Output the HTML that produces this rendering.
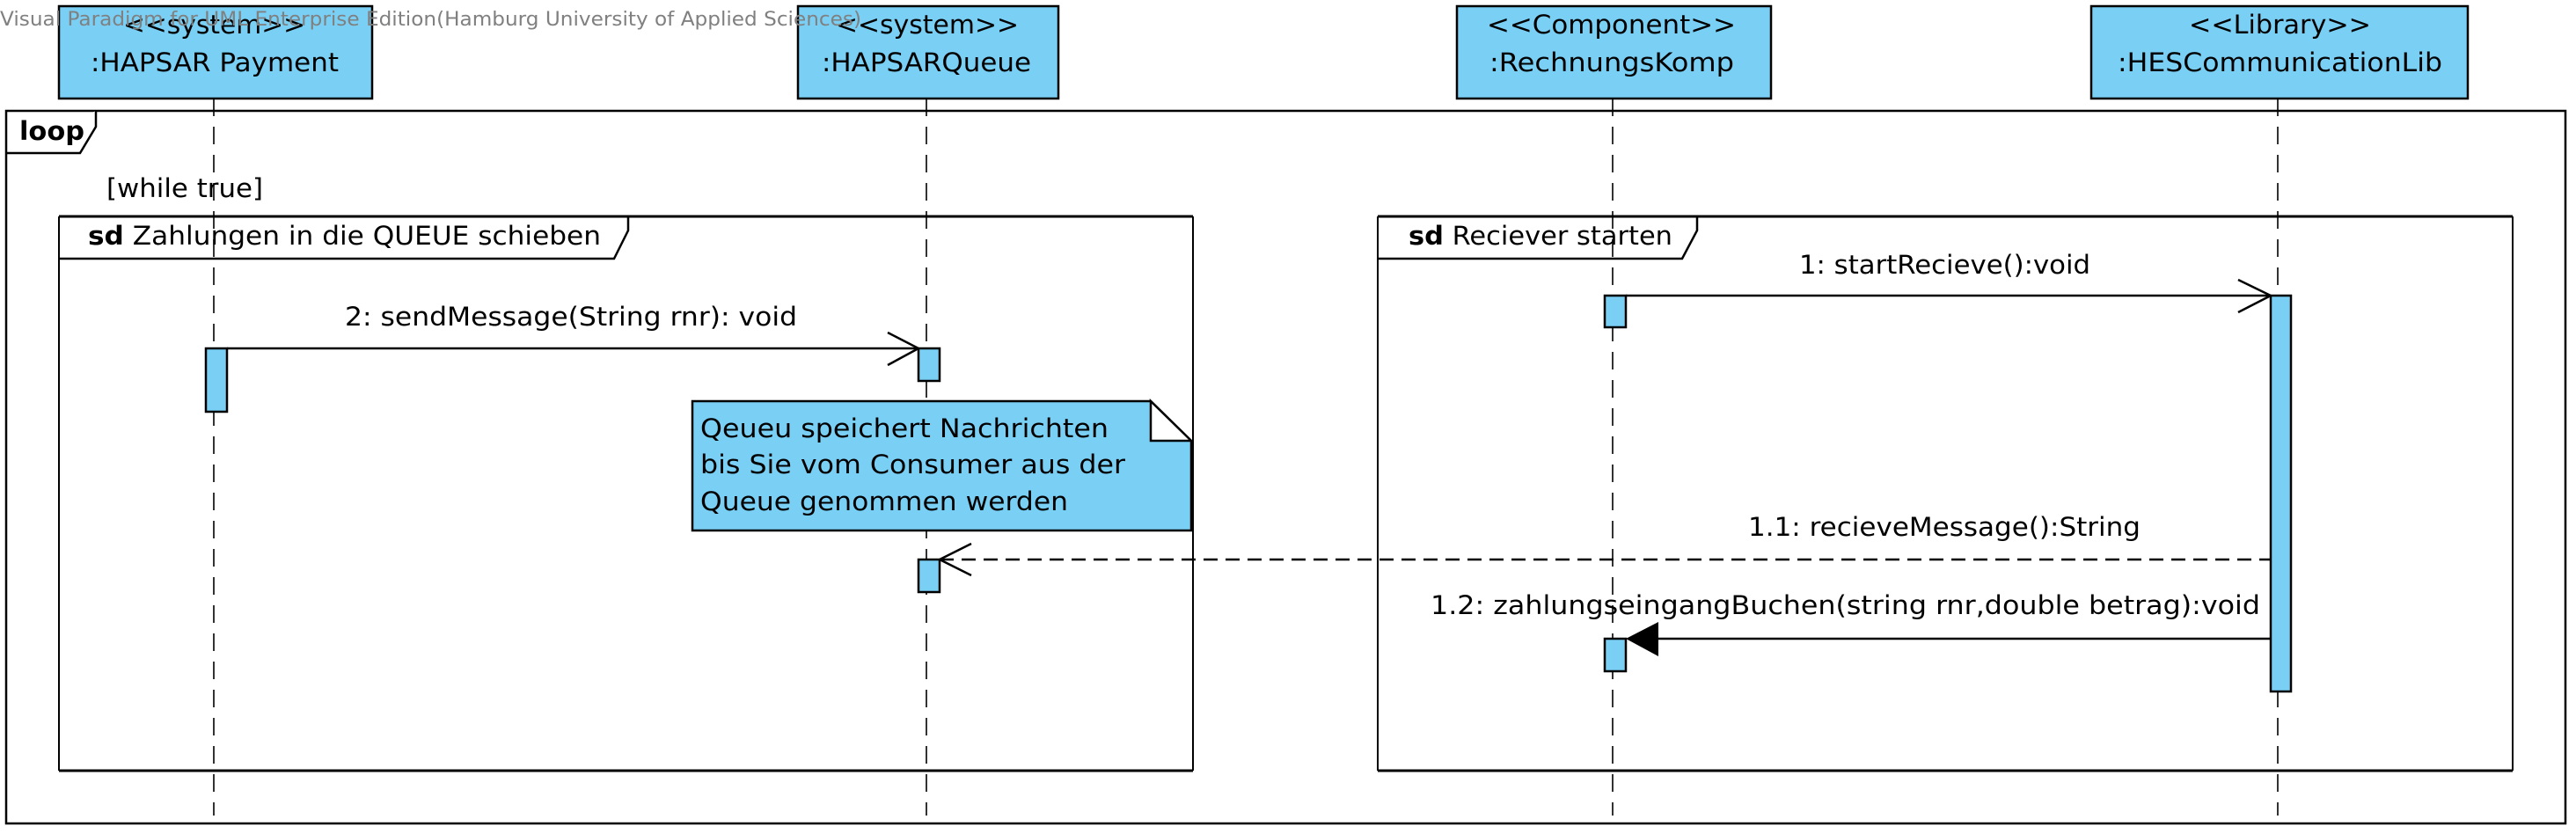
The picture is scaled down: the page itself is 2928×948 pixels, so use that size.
<!DOCTYPE html>
<html><head><meta charset="utf-8"><style>html,body{margin:0;padding:0;background:#fff;}svg{display:block;}</style></head>
<body>
<svg width="2928" height="948" viewBox="0 0 2928 948" xmlns="http://www.w3.org/2000/svg" font-family="'DejaVu Sans','Liberation Sans',sans-serif">
<rect width="2928" height="948" fill="#fff"/>
<!-- lifelines -->
<g stroke="#000" stroke-width="1.6" stroke-dasharray="20,12" fill="none">
<line x1="243" y1="112" x2="243" y2="927"/>
<line x1="1053" y1="112" x2="1053" y2="927"/>
<line x1="1833" y1="112" x2="1833" y2="927"/>
<line x1="2589" y1="112" x2="2589" y2="927"/>
</g>
<!-- loop frame -->
<rect x="7" y="126" width="2909" height="810" fill="none" stroke="#000" stroke-width="2.5"/>
<path d="M7,174 L91,174 L109,144 L109,126" fill="#fff" stroke="#000" stroke-width="2.5"/>
<text x="22" y="159" font-size="29" font-weight="bold" textLength="74" lengthAdjust="spacingAndGlyphs">loop</text>
<text x="121" y="224" font-size="29" textLength="178" lengthAdjust="spacingAndGlyphs">[while true]</text>
<!-- sd frames -->
<g fill="none" stroke="#000">
<line x1="67" y1="246" x2="67" y2="876" stroke-width="2"/>
<line x1="1356" y1="246" x2="1356" y2="876" stroke-width="2"/>
<line x1="67" y1="246" x2="1356" y2="246" stroke-width="3"/>
<line x1="67" y1="876" x2="1356" y2="876" stroke-width="3"/>
<path d="M67,294 L698,294 L714,262 L714,246" stroke-width="2.5"/>
<line x1="1566" y1="246" x2="1566" y2="876" stroke-width="2"/>
<line x1="2856" y1="246" x2="2856" y2="876" stroke-width="2"/>
<line x1="1566" y1="246" x2="2856" y2="246" stroke-width="3"/>
<line x1="1566" y1="876" x2="2856" y2="876" stroke-width="3"/>
<path d="M1566,294 L1912,294 L1929,262 L1929,246" stroke-width="2.5"/>
</g>
<text x="100" y="278" font-size="29" textLength="583" lengthAdjust="spacingAndGlyphs"><tspan font-weight="bold">sd</tspan> Zahlungen in die QUEUE schieben</text>
<text x="1601" y="278" font-size="29" textLength="300" lengthAdjust="spacingAndGlyphs"><tspan font-weight="bold">sd</tspan> Reciever starten</text>
<!-- lifeline heads -->
<g fill="#7ACFF5" stroke="#000" stroke-width="2.5">
<rect x="67" y="7" width="356" height="105"/>
<rect x="907" y="7" width="296" height="105"/>
<rect x="1656" y="7" width="357" height="105"/>
<rect x="2377" y="7" width="428" height="105"/>
</g>
<g font-size="29" fill="#000" lengthAdjust="spacingAndGlyphs">
<text x="140" y="38" textLength="207" lengthAdjust="spacingAndGlyphs">&lt;&lt;system&gt;&gt;</text>
<text x="103" y="81" textLength="282" lengthAdjust="spacingAndGlyphs">:HAPSAR Payment</text>
<text x="950" y="38" textLength="208" lengthAdjust="spacingAndGlyphs">&lt;&lt;system&gt;&gt;</text>
<text x="934" y="81" textLength="238" lengthAdjust="spacingAndGlyphs">:HAPSARQueue</text>
<text x="1690" y="38" textLength="283" lengthAdjust="spacingAndGlyphs">&lt;&lt;Component&gt;&gt;</text>
<text x="1693" y="81" textLength="278" lengthAdjust="spacingAndGlyphs">:RechnungsKomp</text>
<text x="2488" y="38" textLength="207" lengthAdjust="spacingAndGlyphs">&lt;&lt;Library&gt;&gt;</text>
<text x="2407" y="81" textLength="369" lengthAdjust="spacingAndGlyphs">:HESCommunicationLib</text>
</g>
<text x="0" y="29" font-size="22" fill="#808080" textLength="979" lengthAdjust="spacingAndGlyphs">Visual Paradigm for UML Enterprise Edition(Hamburg University of Applied Sciences)</text>
<!-- note -->
<path d="M787,456 L1308,456 L1354,501 L1354,603 L787,603 Z" fill="#7ACFF5" stroke="#000" stroke-width="2.5"/>
<path d="M1308,456 L1308,501 L1354,501 Z" fill="#fff" stroke="#000" stroke-width="2.5"/>
<g font-size="29">
<text x="796" y="497" textLength="464" lengthAdjust="spacingAndGlyphs">Qeueu speichert Nachrichten</text>
<text x="796" y="538" textLength="483" lengthAdjust="spacingAndGlyphs">bis Sie vom Consumer aus der</text>
<text x="796" y="580" textLength="418" lengthAdjust="spacingAndGlyphs">Queue genommen werden</text>
</g>
<!-- activations -->
<g fill="#7ACFF5" stroke="#000" stroke-width="2.5">
<rect x="234" y="396" width="24" height="72"/>
<rect x="1044" y="396" width="24" height="37"/>
<rect x="1044" y="636" width="24" height="37"/>
<rect x="1824" y="336" width="24" height="36"/>
<rect x="1824" y="726" width="24" height="37"/>
<rect x="2581" y="336" width="23" height="450"/>
</g>
<!-- messages -->
<g stroke="#000" fill="none" stroke-width="2.5">
<line x1="258" y1="396" x2="1044" y2="396"/>
<polyline points="1009,378 1044,396 1009,415"/>
<line x1="1848" y1="336" x2="2581" y2="336"/>
<polyline points="2544,318 2581,336 2544,355"/>
<line x1="1068" y1="636" x2="2581" y2="636" stroke-dasharray="16,9"/>
<polyline points="1104,618 1068,636 1104,654"/>
<line x1="1880" y1="726" x2="2581" y2="726"/>
</g>
<polygon points="1848,726 1885,707 1885,746" fill="#000"/>
<g font-size="29">
<text x="392" y="370" textLength="514" lengthAdjust="spacingAndGlyphs">2: sendMessage(String rnr): void</text>
<text x="2045" y="311" textLength="331" lengthAdjust="spacingAndGlyphs">1: startRecieve():void</text>
<text x="1987" y="609" textLength="446" lengthAdjust="spacingAndGlyphs">1.1: recieveMessage():String</text>
<text x="1626" y="698" textLength="943" lengthAdjust="spacingAndGlyphs">1.2: zahlungseingangBuchen(string rnr,double betrag):void</text>
</g>
</svg>
</body></html>
